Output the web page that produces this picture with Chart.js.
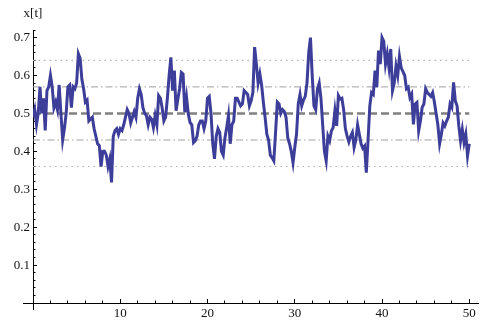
<!DOCTYPE html>
<html>
<head>
<meta charset="utf-8">
<script src="https://cdn.jsdelivr.net/npm/chart.js@4.4.1/dist/chart.umd.min.js"></script>
<style>
  body { margin: 0; background: #fff; }
  #wrap { width: 489px; height: 326px; }
</style>
</head>
<body>
<div id="wrap"><canvas id="myChart" width="489" height="326"></canvas></div>
<script>
// sample spacing of the path (t units)
const dt = 0.2;

// x[t], t = 0, 0.2, ... 50
const xt = [
    0.49, 0.51, 0.47, 0.50, 0.57, 0.50, 0.54, 0.455, 0.56, 0.57,
    0.60, 0.57, 0.515, 0.53, 0.51, 0.575, 0.50, 0.43, 0.46, 0.50,
    0.57, 0.575, 0.515, 0.57, 0.565, 0.58, 0.657, 0.645, 0.59, 0.565,
    0.53, 0.535, 0.48, 0.485, 0.49, 0.46, 0.44, 0.42, 0.415, 0.36,
    0.40, 0.40, 0.39, 0.36, 0.38, 0.318, 0.44, 0.455, 0.46, 0.445,
    0.46, 0.455, 0.47, 0.49, 0.51, 0.50, 0.475, 0.49, 0.505, 0.49,
    0.54, 0.565, 0.55, 0.515, 0.50, 0.494, 0.47, 0.49, 0.485, 0.463,
    0.494, 0.47, 0.547, 0.54, 0.515, 0.48, 0.49, 0.54, 0.60, 0.648,
    0.56, 0.613, 0.507, 0.537, 0.565, 0.608, 0.604, 0.503, 0.542, 0.498,
    0.476, 0.47, 0.423, 0.428, 0.44, 0.47, 0.48, 0.48, 0.46, 0.48,
    0.54, 0.545, 0.50, 0.42, 0.38, 0.44, 0.46, 0.45, 0.40, 0.39,
    0.436, 0.463, 0.494, 0.42, 0.47, 0.48, 0.54, 0.54, 0.53, 0.52,
    0.525, 0.56, 0.555, 0.55, 0.52, 0.533, 0.555, 0.675, 0.63, 0.58,
    0.604, 0.575, 0.53, 0.49, 0.445, 0.43, 0.39, 0.383, 0.375, 0.45,
    0.53, 0.525, 0.50, 0.51, 0.505, 0.49, 0.435, 0.42, 0.40, 0.37,
    0.41, 0.445, 0.525, 0.55, 0.52, 0.535, 0.545, 0.58, 0.66, 0.70,
    0.60, 0.52, 0.51, 0.565, 0.58, 0.54, 0.47, 0.40, 0.375, 0.44,
    0.428, 0.454, 0.463, 0.507, 0.467, 0.547, 0.538, 0.54, 0.51, 0.46,
    0.44, 0.425, 0.44, 0.45, 0.41, 0.43, 0.47, 0.445, 0.42, 0.408,
    0.414, 0.344, 0.43, 0.52, 0.555, 0.55, 0.613, 0.569, 0.666, 0.63,
    0.70, 0.69, 0.63, 0.657, 0.62, 0.67, 0.56, 0.58, 0.625, 0.60,
    0.65, 0.62, 0.61, 0.60, 0.565, 0.569, 0.542, 0.551, 0.471, 0.525,
    0.529, 0.454, 0.48, 0.516, 0.525, 0.565, 0.555, 0.55, 0.545, 0.555,
    0.53, 0.50, 0.47, 0.42, 0.445, 0.475, 0.467, 0.48, 0.49, 0.525,
    0.516, 0.582, 0.533, 0.52, 0.467, 0.428, 0.458, 0.423, 0.445, 0.388,
    0.42
];

// horizontal reference levels
const meanLevel = [0.5];
const innerBand = [0.57, 0.43];
const outerBand = [0.64, 0.36];
const refSpan = [0, 50];

// axis ranges / ticks
const xRange = [0, 51];
const yRange = [0, 0.72];
const xMajor = 10, xMinor = 2;
const yMajor = 0.1, yMinor = 0.02;

const axisFont = { family: "'Liberation Serif', 'DejaVu Serif', serif", size: 13 };

function refLine(level, dash, width, color) {
    return {
        data: refSpan.map(function (t) { return { x: t, y: level }; }),
        borderColor: color,
        borderWidth: width,
        borderDash: dash,
        pointRadius: 0,
        fill: false,
        order: 2
    };
}

var datasets = [{
    label: 'x[t]',
    data: xt.map(function (v, i) { return { x: i * dt, y: v }; }),
    borderColor: '#3d3d9a',
    borderWidth: 3,
    pointRadius: 0,
    tension: 0,
    fill: false,
    order: 1
}];
meanLevel.forEach(function (l) { datasets.push(refLine(l, [8, 4], 2.5, '#808080')); });
innerBand.forEach(function (l) { datasets.push(refLine(l, [7, 3, 1.5, 3], 1, '#a0a0a0')); });
outerBand.forEach(function (l) { datasets.push(refLine(l, [1.5, 4], 1.2, '#b0b0b0')); });

// axis arms past the origin + the x[t] label
const axisExtras = {
    id: 'axisExtras',
    afterDraw: function (chart) {
        const c = chart.ctx, a = chart.chartArea;
        c.save();
        c.strokeStyle = '#000';
        c.lineWidth = 1;
        c.beginPath();
        c.moveTo(a.left - 10, a.bottom + 0.5);
        c.lineTo(a.left, a.bottom + 0.5);
        c.moveTo(a.left + 0.5, a.bottom);
        c.lineTo(a.left + 0.5, a.bottom + 7);
        c.stroke();
        c.fillStyle = '#111';
        c.font = "13px 'Liberation Serif', 'DejaVu Serif', serif";
        c.textAlign = 'center';
        c.textBaseline = 'middle';
        c.fillText('x[t]', a.left, 14);
        c.restore();
    }
};

new Chart(document.getElementById('myChart').getContext('2d'), {
    type: 'line',
    data: { datasets: datasets },
    plugins: [axisExtras],
    options: {
        responsive: false,
        devicePixelRatio: 1,
        animation: false,
        layout: { padding: { top: 30, right: 11, left: 0, bottom: 0 } },
        plugins: { legend: { display: false }, tooltip: { enabled: false } },
        scales: {
            x: {
                type: 'linear', position: 'bottom', weight: 1,
                min: xRange[0], max: xRange[1],
                afterFit: function (s) { s.height = 23; },
                border: { display: true, color: '#000', width: 1 },
                grid: { drawOnChartArea: false, drawTicks: true, tickLength: -4, color: '#000' },
                ticks: {
                    stepSize: xMajor, includeBounds: false, padding: 7, maxRotation: 0,
                    color: '#111', font: axisFont,
                    callback: function (v) { return v === 0 ? '' : v; }
                }
            },
            xMinor: {
                type: 'linear', position: 'bottom', weight: 0,
                min: xRange[0], max: xRange[1],
                afterFit: function (s) { s.height = 0; },
                border: { display: false },
                grid: { drawOnChartArea: false, drawTicks: true, tickLength: -2.5, color: '#000' },
                ticks: { stepSize: xMinor, includeBounds: false, display: false }
            },
            y: {
                type: 'linear', position: 'left', weight: 1,
                min: yRange[0], max: yRange[1],
                afterFit: function (s) { s.width = 33; },
                border: { display: true, color: '#000', width: 1 },
                grid: { drawOnChartArea: false, drawTicks: true, tickLength: -4, color: '#000' },
                ticks: {
                    stepSize: yMajor, includeBounds: false, padding: 7,
                    color: '#111', font: axisFont,
                    callback: function (v) { return v === 0 ? '' : v.toFixed(1); }
                }
            },
            yMinor: {
                type: 'linear', position: 'left', weight: 0,
                min: yRange[0], max: yRange[1],
                afterFit: function (s) { s.width = 0; },
                border: { display: false },
                grid: { drawOnChartArea: false, drawTicks: true, tickLength: -2.5, color: '#000' },
                ticks: { stepSize: yMinor, includeBounds: false, display: false }
            }
        }
    }
});
</script>
</body>
</html>
